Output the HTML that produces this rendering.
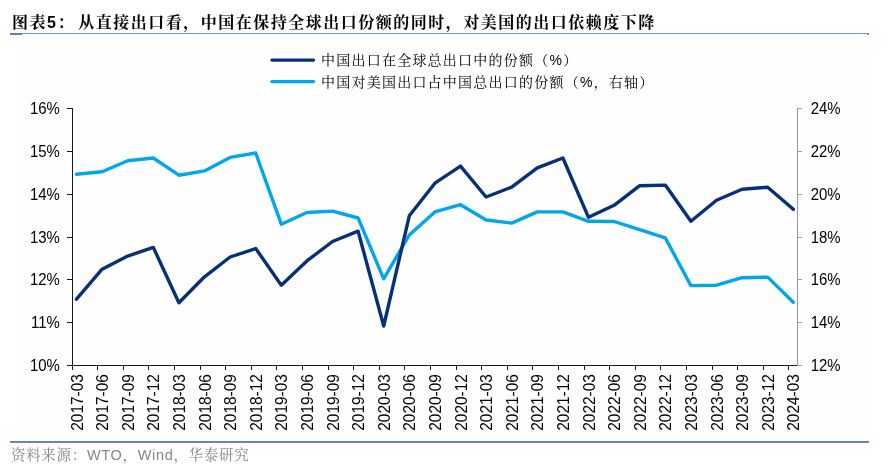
<!DOCTYPE html>
<html lang="zh-CN"><head><meta charset="utf-8"><title>图表5</title>
<style>
html,body{margin:0;padding:0;background:#fff;}
body{width:890px;height:476px;position:relative;overflow:hidden;font-family:"Liberation Sans","Noto Serif CJK SC",serif;color:#000;}
.title{position:absolute;left:12px;top:10.5px;height:24px;line-height:24px;font-size:16px;font-weight:bold;letter-spacing:1.5px;word-spacing:-2.6px;white-space:nowrap;font-family:"Liberation Sans","Noto Serif CJK SC",serif;}
.rule1{position:absolute;left:10px;top:33px;width:859px;height:1px;background:#7094c2;}
.rule1b{position:absolute;left:10px;top:33px;width:12px;height:2px;background:#5f84b3;}
.rule1c{position:absolute;left:867px;top:33px;width:2px;height:2px;background:#6b8fbd;}
.bg{position:absolute;left:22px;top:34px;width:846px;height:407px;background:#fefefe;}
.rule2{position:absolute;left:10px;top:441px;width:859px;height:2px;background:#6688ad;}
.leg{position:absolute;left:321px;height:20px;line-height:20px;font-size:14px;letter-spacing:1.23px;white-space:nowrap;}
.src{position:absolute;left:11px;top:443.5px;height:22px;line-height:22px;font-size:14.5px;letter-spacing:0.68px;color:#868686;white-space:nowrap;}
</style></head><body>
<div class="title">图表5： 从直接出口看，中国在保持全球出口份额的同时，对美国的出口依赖度下降</div>
<div class="bg"></div>
<div class="rule1"></div><div class="rule1b"></div><div class="rule1c"></div>
<div class="leg" style="top:50px">中国出口在全球总出口中的份额（%）</div>
<div class="leg" style="top:72px">中国对美国出口占中国总出口的份额（%，右轴）</div>
<svg width="890" height="476" viewBox="0 0 890 476" style="position:absolute;left:0;top:0">
<g stroke="#1a1a1a" stroke-width="1" fill="none" shape-rendering="crispEdges">
<line x1="72.5" y1="108" x2="72.5" y2="366"/>
<line x1="67" y1="365.5" x2="798" y2="365.5"/>
<line x1="67" y1="108.5" x2="73" y2="108.5"/>
<line x1="67" y1="151.5" x2="73" y2="151.5"/>
<line x1="67" y1="194.5" x2="73" y2="194.5"/>
<line x1="67" y1="237.5" x2="73" y2="237.5"/>
<line x1="67" y1="279.5" x2="73" y2="279.5"/>
<line x1="67" y1="322.5" x2="73" y2="322.5"/>
<line x1="67" y1="365.5" x2="73" y2="365.5"/>
<line x1="72.5" y1="365" x2="72.5" y2="370"/>
<line x1="97.5" y1="365" x2="97.5" y2="370"/>
<line x1="123.5" y1="365" x2="123.5" y2="370"/>
<line x1="148.5" y1="365" x2="148.5" y2="370"/>
<line x1="174.5" y1="365" x2="174.5" y2="370"/>
<line x1="200.5" y1="365" x2="200.5" y2="370"/>
<line x1="225.5" y1="365" x2="225.5" y2="370"/>
<line x1="251.5" y1="365" x2="251.5" y2="370"/>
<line x1="276.5" y1="365" x2="276.5" y2="370"/>
<line x1="302.5" y1="365" x2="302.5" y2="370"/>
<line x1="328.5" y1="365" x2="328.5" y2="370"/>
<line x1="353.5" y1="365" x2="353.5" y2="370"/>
<line x1="379.5" y1="365" x2="379.5" y2="370"/>
<line x1="404.5" y1="365" x2="404.5" y2="370"/>
<line x1="430.5" y1="365" x2="430.5" y2="370"/>
<line x1="456.5" y1="365" x2="456.5" y2="370"/>
<line x1="481.5" y1="365" x2="481.5" y2="370"/>
<line x1="507.5" y1="365" x2="507.5" y2="370"/>
<line x1="532.5" y1="365" x2="532.5" y2="370"/>
<line x1="558.5" y1="365" x2="558.5" y2="370"/>
<line x1="584.5" y1="365" x2="584.5" y2="370"/>
<line x1="609.5" y1="365" x2="609.5" y2="370"/>
<line x1="635.5" y1="365" x2="635.5" y2="370"/>
<line x1="660.5" y1="365" x2="660.5" y2="370"/>
<line x1="686.5" y1="365" x2="686.5" y2="370"/>
<line x1="712.5" y1="365" x2="712.5" y2="370"/>
<line x1="737.5" y1="365" x2="737.5" y2="370"/>
<line x1="763.5" y1="365" x2="763.5" y2="370"/>
<line x1="788.5" y1="365" x2="788.5" y2="370"/>
</g>
<g stroke="#9a9a9a" stroke-width="1" fill="none" shape-rendering="crispEdges">
<line x1="797.5" y1="108" x2="797.5" y2="365"/>
<line x1="797" y1="108.5" x2="802" y2="108.5"/>
<line x1="797" y1="151.5" x2="802" y2="151.5"/>
<line x1="797" y1="194.5" x2="802" y2="194.5"/>
<line x1="797" y1="237.5" x2="802" y2="237.5"/>
<line x1="797" y1="279.5" x2="802" y2="279.5"/>
<line x1="797" y1="322.5" x2="802" y2="322.5"/>
<line x1="797" y1="365.5" x2="802" y2="365.5"/>
</g>
<polyline points="76.5,174.2 102.1,171.8 127.7,160.7 153.3,158.0 178.9,175.2 204.5,170.9 230.1,157.4 255.7,153.0 281.3,224.2 306.9,212.5 332.5,211.1 358.1,218.0 383.7,278.8 409.3,235.0 434.9,211.9 460.5,204.7 486.1,220.0 511.7,223.1 537.3,211.9 562.9,211.9 588.5,221.3 614.1,221.5 639.7,229.7 665.3,237.9 690.9,285.6 716.5,285.2 742.1,277.7 767.7,277.1 793.3,302.3" fill="none" stroke="#00a6ee" stroke-width="3.4" stroke-linejoin="round" stroke-linecap="round"/>
<polyline points="76.5,299.2 102.1,269.2 127.7,256.1 153.3,247.4 178.9,302.8 204.5,276.8 230.1,257.0 255.7,248.5 281.3,285.2 306.9,260.9 332.5,241.5 358.1,231.2 383.7,326.0 409.3,215.8 434.9,183.2 460.5,166.1 486.1,197.0 511.7,187.1 537.3,167.9 562.9,158.0 588.5,217.3 614.1,205.3 639.7,185.7 665.3,185.1 690.9,221.3 716.5,200.2 742.1,189.2 767.7,187.2 793.3,209.3" fill="none" stroke="#06307a" stroke-width="3.4" stroke-linejoin="round" stroke-linecap="round"/>
<line x1="272" y1="60.1" x2="313.5" y2="60.1" stroke="#06307a" stroke-width="3.4" stroke-linecap="round"/>
<line x1="272" y1="81.6" x2="313.5" y2="81.6" stroke="#00a6ee" stroke-width="3.4" stroke-linecap="round"/>
<g font-family="'Liberation Sans', sans-serif" font-size="16" fill="#000">
<text transform="translate(59.8,114) scale(0.935,1)" text-anchor="end">16%</text>
<text transform="translate(810.7,114) scale(0.935,1)">24%</text>
<text transform="translate(59.8,157) scale(0.935,1)" text-anchor="end">15%</text>
<text transform="translate(810.7,157) scale(0.935,1)">22%</text>
<text transform="translate(59.8,200) scale(0.935,1)" text-anchor="end">14%</text>
<text transform="translate(810.7,200) scale(0.935,1)">20%</text>
<text transform="translate(59.8,243) scale(0.935,1)" text-anchor="end">13%</text>
<text transform="translate(810.7,243) scale(0.935,1)">18%</text>
<text transform="translate(59.8,285) scale(0.935,1)" text-anchor="end">12%</text>
<text transform="translate(810.7,285) scale(0.935,1)">16%</text>
<text transform="translate(59.8,328) scale(0.935,1)" text-anchor="end">11%</text>
<text transform="translate(810.7,328) scale(0.935,1)">14%</text>
<text transform="translate(59.8,371) scale(0.935,1)" text-anchor="end">10%</text>
<text transform="translate(810.7,371) scale(0.935,1)">12%</text>
<text transform="translate(82.5,374.1) rotate(-90) scale(0.965,1)" text-anchor="end">2017-03</text>
<text transform="translate(108.1,374.1) rotate(-90) scale(0.965,1)" text-anchor="end">2017-06</text>
<text transform="translate(133.7,374.1) rotate(-90) scale(0.965,1)" text-anchor="end">2017-09</text>
<text transform="translate(159.3,374.1) rotate(-90) scale(0.965,1)" text-anchor="end">2017-12</text>
<text transform="translate(184.9,374.1) rotate(-90) scale(0.965,1)" text-anchor="end">2018-03</text>
<text transform="translate(210.5,374.1) rotate(-90) scale(0.965,1)" text-anchor="end">2018-06</text>
<text transform="translate(236.1,374.1) rotate(-90) scale(0.965,1)" text-anchor="end">2018-09</text>
<text transform="translate(261.7,374.1) rotate(-90) scale(0.965,1)" text-anchor="end">2018-12</text>
<text transform="translate(287.3,374.1) rotate(-90) scale(0.965,1)" text-anchor="end">2019-03</text>
<text transform="translate(312.9,374.1) rotate(-90) scale(0.965,1)" text-anchor="end">2019-06</text>
<text transform="translate(338.5,374.1) rotate(-90) scale(0.965,1)" text-anchor="end">2019-09</text>
<text transform="translate(364.1,374.1) rotate(-90) scale(0.965,1)" text-anchor="end">2019-12</text>
<text transform="translate(389.7,374.1) rotate(-90) scale(0.965,1)" text-anchor="end">2020-03</text>
<text transform="translate(415.3,374.1) rotate(-90) scale(0.965,1)" text-anchor="end">2020-06</text>
<text transform="translate(440.9,374.1) rotate(-90) scale(0.965,1)" text-anchor="end">2020-09</text>
<text transform="translate(466.5,374.1) rotate(-90) scale(0.965,1)" text-anchor="end">2020-12</text>
<text transform="translate(492.1,374.1) rotate(-90) scale(0.965,1)" text-anchor="end">2021-03</text>
<text transform="translate(517.7,374.1) rotate(-90) scale(0.965,1)" text-anchor="end">2021-06</text>
<text transform="translate(543.3,374.1) rotate(-90) scale(0.965,1)" text-anchor="end">2021-09</text>
<text transform="translate(568.9,374.1) rotate(-90) scale(0.965,1)" text-anchor="end">2021-12</text>
<text transform="translate(594.5,374.1) rotate(-90) scale(0.965,1)" text-anchor="end">2022-03</text>
<text transform="translate(620.1,374.1) rotate(-90) scale(0.965,1)" text-anchor="end">2022-06</text>
<text transform="translate(645.7,374.1) rotate(-90) scale(0.965,1)" text-anchor="end">2022-09</text>
<text transform="translate(671.3,374.1) rotate(-90) scale(0.965,1)" text-anchor="end">2022-12</text>
<text transform="translate(696.9,374.1) rotate(-90) scale(0.965,1)" text-anchor="end">2023-03</text>
<text transform="translate(722.5,374.1) rotate(-90) scale(0.965,1)" text-anchor="end">2023-06</text>
<text transform="translate(748.1,374.1) rotate(-90) scale(0.965,1)" text-anchor="end">2023-09</text>
<text transform="translate(773.7,374.1) rotate(-90) scale(0.965,1)" text-anchor="end">2023-12</text>
<text transform="translate(799.3,374.1) rotate(-90) scale(0.965,1)" text-anchor="end">2024-03</text>
</g>
</svg>
<div class="rule2"></div>
<div class="src">资料来源：WTO，Wind，华泰研究</div>
</body></html>
